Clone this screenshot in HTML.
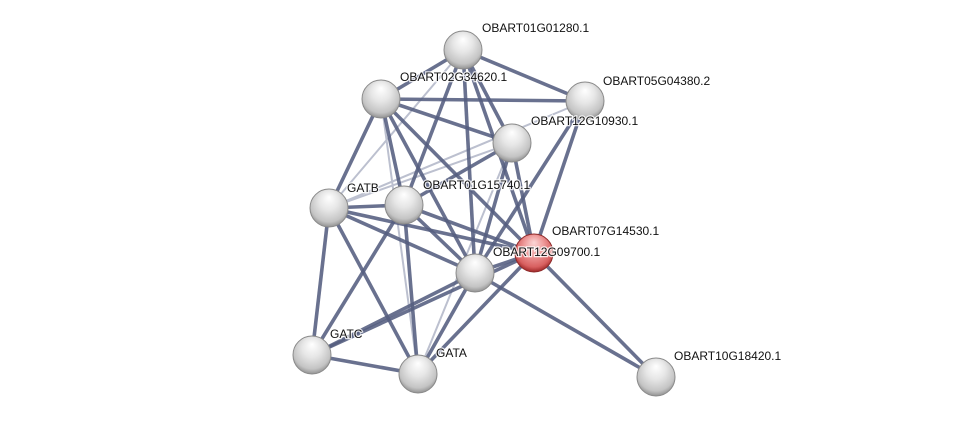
<!DOCTYPE html>
<html><head><meta charset="utf-8"><style>
html,body{margin:0;padding:0;background:#fff;}
svg{display:block;}
text{font-family:"Liberation Sans",Arial,sans-serif;font-size:12px;fill:#111;paint-order:stroke;stroke:#fff;stroke-width:2.5px;stroke-opacity:0.8;}
</style></head><body>
<svg width="975" height="422" viewBox="0 0 975 422" xmlns="http://www.w3.org/2000/svg">
<defs>
<radialGradient id="g" cx="50%" cy="40%" r="58%" fx="50%" fy="22%">
<stop offset="0" stop-color="#ffffff"/>
<stop offset="0.45" stop-color="#e6e6e6"/>
<stop offset="0.85" stop-color="#c4c4c4"/>
<stop offset="1" stop-color="#9a9a9a"/>
</radialGradient>
<radialGradient id="r" cx="50%" cy="40%" r="58%" fx="50%" fy="22%">
<stop offset="0" stop-color="#fbd6d6"/>
<stop offset="0.45" stop-color="#ee9a9a"/>
<stop offset="0.85" stop-color="#d86060"/>
<stop offset="1" stop-color="#a83030"/>
</radialGradient>
<linearGradient id="hl" x1="0" y1="0" x2="0" y2="1">
<stop offset="0" stop-color="#fff" stop-opacity="0.9"/>
<stop offset="1" stop-color="#fff" stop-opacity="0"/>
</linearGradient>
</defs>
<g stroke-linecap="butt">
<!-- light edges -->
<g stroke="#bcc0cf" stroke-width="2">
<line x1="463" y1="50" x2="329" y2="208"/>
<line x1="585" y1="101" x2="329" y2="208"/>
<line x1="512" y1="143" x2="329" y2="208"/>
<line x1="381" y1="99" x2="418" y2="374"/>
<line x1="512" y1="143" x2="418" y2="374"/>
</g>
<!-- dark edges -->
<g stroke="#545d80" stroke-width="3.6" stroke-opacity="0.88">
<line x1="463" y1="50" x2="381" y2="99"/>
<line x1="463" y1="50" x2="585" y2="101"/>
<line x1="463" y1="50" x2="512" y2="143"/>
<line x1="463" y1="50" x2="534" y2="253"/>
<line x1="463" y1="50" x2="475" y2="273"/>
<line x1="463" y1="50" x2="404" y2="205"/>
<line x1="381" y1="99" x2="585" y2="101"/>
<line x1="381" y1="99" x2="512" y2="143"/>
<line x1="381" y1="99" x2="329" y2="208"/>
<line x1="381" y1="99" x2="404" y2="205"/>
<line x1="381" y1="99" x2="475" y2="273"/>
<line x1="381" y1="99" x2="534" y2="253"/>
<line x1="585" y1="101" x2="534" y2="253"/>
<line x1="585" y1="101" x2="475" y2="273"/>
<line x1="512" y1="143" x2="534" y2="253"/>
<line x1="512" y1="143" x2="475" y2="273"/>
<line x1="512" y1="143" x2="404" y2="205"/>
<line x1="329" y1="208" x2="404" y2="205"/>
<line x1="329" y1="208" x2="534" y2="253"/>
<line x1="329" y1="208" x2="475" y2="273"/>
<line x1="329" y1="208" x2="312" y2="355"/>
<line x1="329" y1="208" x2="418" y2="374"/>
<line x1="404" y1="205" x2="534" y2="253"/>
<line x1="404" y1="205" x2="475" y2="273"/>
<line x1="404" y1="205" x2="312" y2="355"/>
<line x1="404" y1="205" x2="418" y2="374"/>
<line x1="534" y1="253" x2="475" y2="273"/>
<line x1="534" y1="253" x2="418" y2="374"/>
<line x1="534" y1="253" x2="312" y2="355"/>
<line x1="534" y1="253" x2="656" y2="377"/>
<line x1="475" y1="273" x2="656" y2="377"/>
<line x1="475" y1="273" x2="418" y2="374"/>
<line x1="475" y1="273" x2="312" y2="355"/>
<line x1="312" y1="355" x2="418" y2="374"/>
</g>
</g>
<!-- nodes -->
<g stroke="#8a8a8a" stroke-width="1">
<circle cx="463" cy="50" r="19" fill="url(#g)"/>
<circle cx="381" cy="99" r="19" fill="url(#g)"/>
<circle cx="585" cy="101" r="19" fill="url(#g)"/>
<circle cx="512" cy="143" r="19" fill="url(#g)"/>
<circle cx="329" cy="208" r="19" fill="url(#g)"/>
<circle cx="404" cy="205" r="19" fill="url(#g)"/>
<circle cx="475" cy="273" r="19" fill="url(#g)"/>
<circle cx="312" cy="355" r="19" fill="url(#g)"/>
<circle cx="418" cy="374" r="19" fill="url(#g)"/>
<circle cx="656" cy="377" r="19" fill="url(#g)"/>
<circle cx="534" cy="253" r="19" fill="url(#r)" stroke="#8e2a2a"/>
</g>
<!-- labels -->
<text x="482" y="32">OBART01G01280.1</text>
<text x="400" y="81">OBART02G34620.1</text>
<text x="603" y="85">OBART05G04380.2</text>
<text x="531" y="125">OBART12G10930.1</text>
<text x="347" y="192">GATB</text>
<text x="423" y="189">OBART01G15740.1</text>
<text x="552" y="235">OBART07G14530.1</text>
<text x="493" y="256">OBART12G09700.1</text>
<text x="330" y="338">GATC</text>
<text x="436" y="357">GATA</text>
<text x="674" y="360">OBART10G18420.1</text>
</svg>
</body></html>
